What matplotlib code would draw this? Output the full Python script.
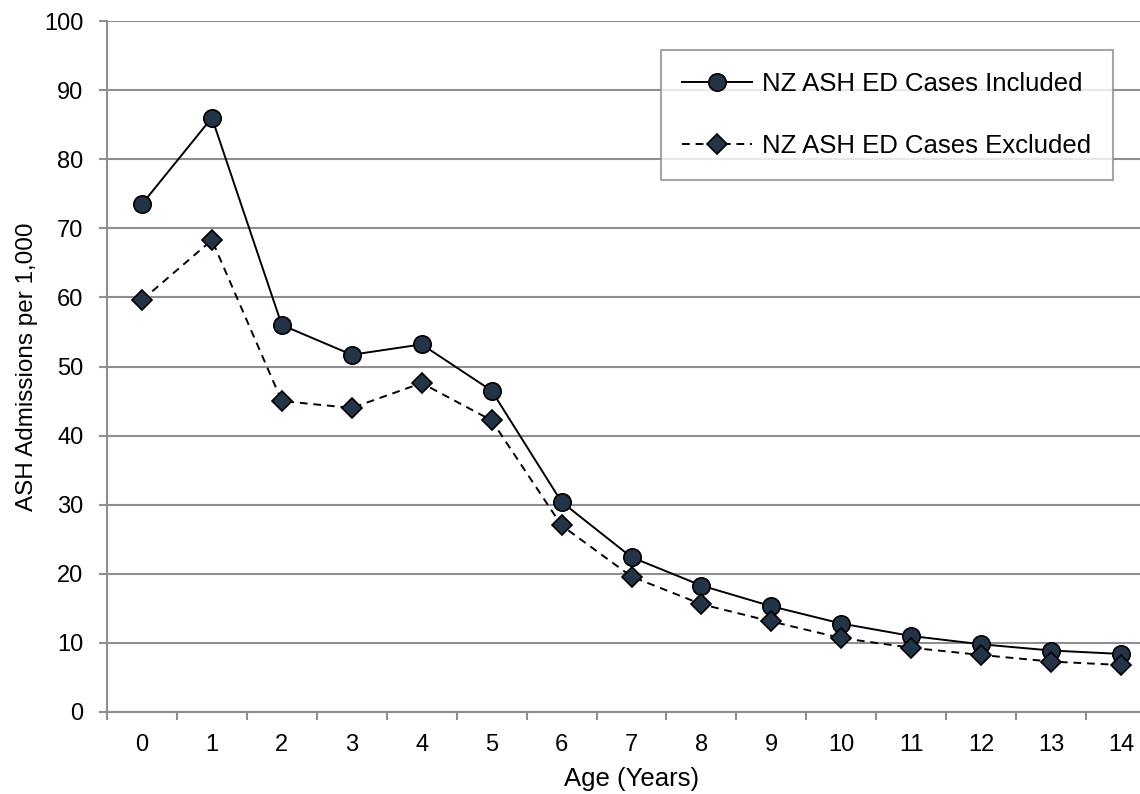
import numpy as np
import matplotlib.pyplot as plt
from matplotlib.ticker import FixedLocator

plt.rcParams['font.family'] = ['Liberation Sans', 'DejaVu Sans']

# admissions per 1,000 by single year of age
ages = list(range(15))
ed_included = [73.5, 86.0, 56.0, 51.7, 53.2, 46.5, 30.4, 22.4, 18.3, 15.3, 12.8, 11.0, 9.8, 8.9, 8.4]
ed_excluded = [59.6, 68.3, 45.0, 44.0, 47.6, 42.2, 27.0, 19.6, 15.6, 13.1, 10.7, 9.3, 8.25, 7.3, 6.8]

grid_col = '#8f8f8f'
marker_col = '#243447'

fig = plt.figure(figsize=(11.4, 7.94), dpi=100)
ax = fig.add_axes([107 / 1140, 82 / 794, 1049 / 1140, 691 / 794])

ax.plot(ages, ed_included, color='black', lw=1.4, marker='o', markersize=12.5,
        markerfacecolor=marker_col, markeredgecolor='black', markeredgewidth=1.2,
        label='NZ ASH ED Cases Included', zorder=3)
ax.plot(ages, ed_excluded, color='black', lw=1.4, ls=(0, (4, 3)), marker='D', markersize=10,
        markerfacecolor=marker_col, markeredgecolor='black', markeredgewidth=1.2,
        label='NZ ASH ED Cases Excluded', zorder=3)

ax.set_xlim(-0.5, 14.5)
ax.set_ylim(0, 100)
ax.set_yticks(np.arange(0, 101, 10))
ax.set_xticks(ages)
ax.xaxis.set_minor_locator(FixedLocator(np.arange(-0.5, 15, 1)))

ax.yaxis.grid(True, color=grid_col, lw=1.5)
ax.set_axisbelow(True)

for side in ['top', 'right']:
    ax.spines[side].set_visible(False)
for side in ['left', 'bottom']:
    ax.spines[side].set_color(grid_col)
    ax.spines[side].set_linewidth(1.5)

ax.tick_params(axis='y', which='major', length=6, width=1.5, color=grid_col,
               labelsize=17, pad=11)
ax.tick_params(axis='x', which='major', length=0, labelsize=17, pad=16)
ax.tick_params(axis='x', which='minor', length=6, width=1.5, color=grid_col)

ax.set_xlabel('Age (Years)', fontsize=18.5, labelpad=8)
ax.set_ylabel('ASH Admissions per 1,000', fontsize=17.5, labelpad=4)

leg = ax.legend(loc='upper right', bbox_to_anchor=(0.959, 0.958), borderaxespad=0,
                fontsize=18.5, frameon=True, fancybox=False, borderpad=0.85,
                labelspacing=1.5, handlelength=2.7, handletextpad=0.4)
leg.get_frame().set_edgecolor(grid_col)
leg.get_frame().set_linewidth(1.5)

fig.savefig('out.png', dpi=100)
